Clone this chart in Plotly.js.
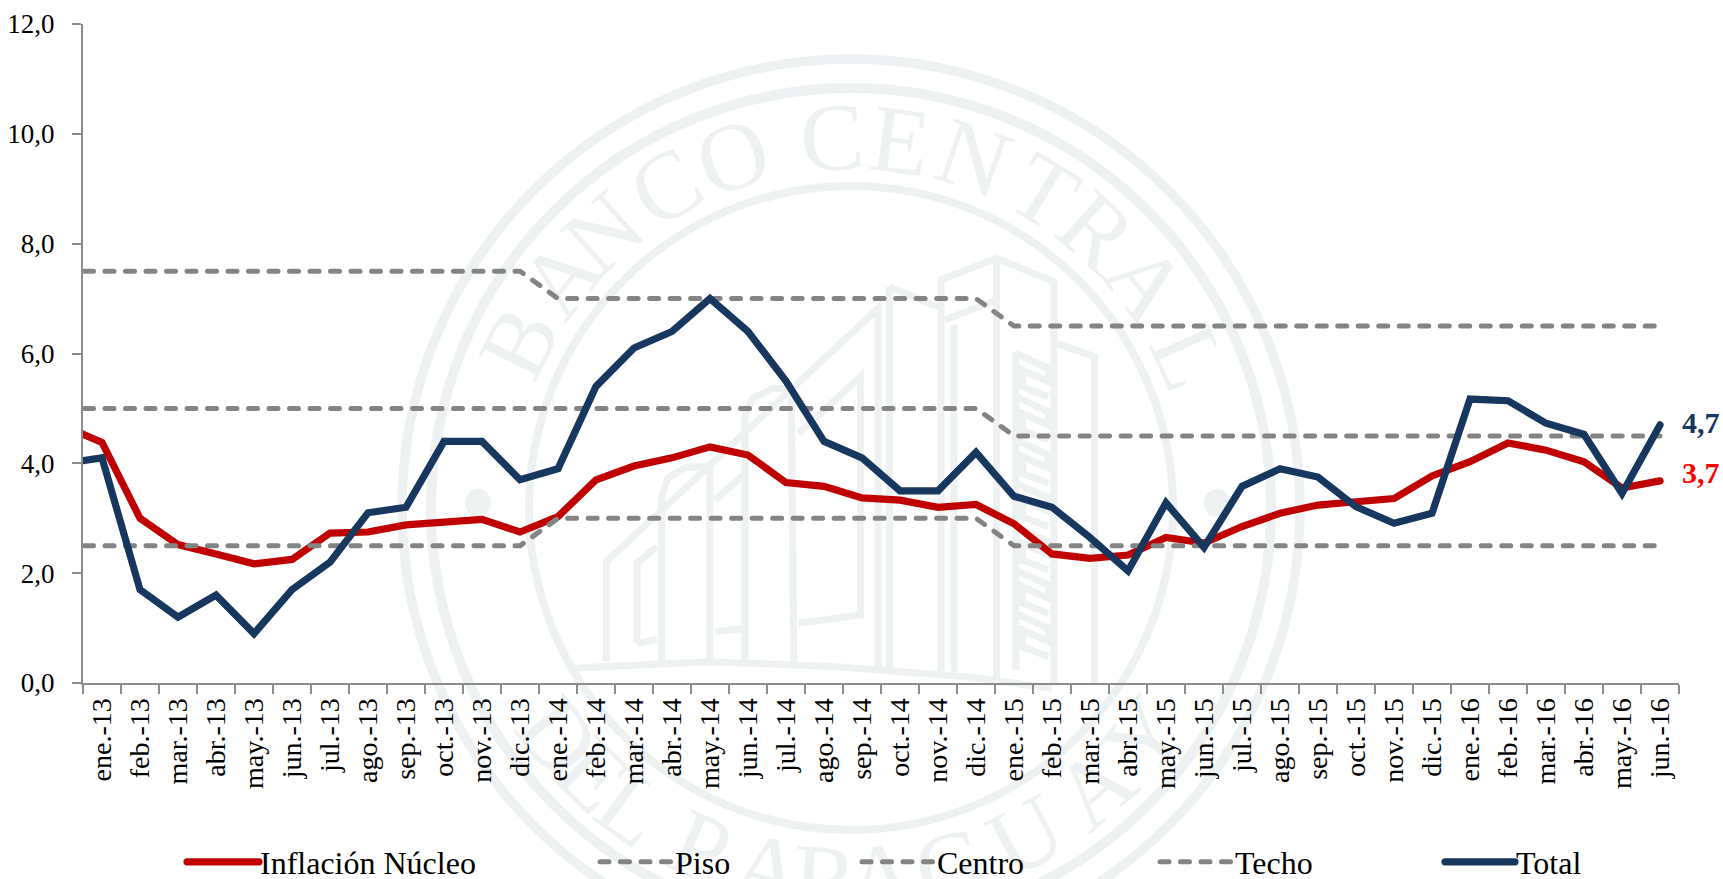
<!DOCTYPE html>
<html><head><meta charset="utf-8">
<script src="https://cdn.plot.ly/plotly-3.0.1.min.js"></script>
<style>
html,body{margin:0;padding:0;background:#fff;overflow:hidden}
#chart{width:1723px;height:879px}
.js-line{stroke-linecap:round !important}
.legendtext{transform:translateX(-4px)}
.legend2text,.legend3text,.legend4text{transform:translateX(-5px)}
.legend5text{transform:translateX(-4px)}
</style></head><body><div id="chart"></div>
<script>
// dic.-12 is only a lead-in point: it sits left of the axis and is clipped there.
const meses = ["dic.-12",
 "ene.-13","feb.-13","mar.-13","abr.-13","may.-13","jun.-13","jul.-13","ago.-13","sep.-13","oct.-13","nov.-13","dic.-13",
 "ene.-14","feb.-14","mar.-14","abr.-14","may.-14","jun.-14","jul.-14","ago.-14","sep.-14","oct.-14","nov.-14","dic.-14",
 "ene.-15","feb.-15","mar.-15","abr.-15","may.-15","jun.-15","jul.-15","ago.-15","sep.-15","oct.-15","nov.-15","dic.-15",
 "ene.-16","feb.-16","mar.-16","abr.-16","may.-16","jun.-16"];
const nucleo = [4.68,
 4.38,3.0,2.52,2.35,2.17,2.25,2.73,2.75,2.88,2.93,2.98,2.75,
 3.03,3.7,3.95,4.1,4.3,4.15,3.65,3.58,3.37,3.33,3.2,3.25,
 2.9,2.35,2.27,2.33,2.65,2.55,2.85,3.09,3.24,3.3,3.36,3.77,
 4.03,4.37,4.24,4.03,3.55,3.68];
const total = [4.0,
 4.1,1.7,1.2,1.6,0.9,1.7,2.2,3.1,3.2,4.4,4.4,3.7,
 3.9,5.4,6.1,6.4,7.0,6.4,5.5,4.4,4.1,3.5,3.5,4.2,
 3.4,3.2,2.65,2.04,3.28,2.47,3.58,3.9,3.75,3.21,2.91,3.09,
 5.17,5.14,4.73,4.53,3.45,4.7];
const piso = [2.5,
 2.5,2.5,2.5,2.5,2.5,2.5,2.5,2.5,2.5,2.5,2.5,2.5,
 3,3,3,3,3,3,3,3,3,3,3,3,
 2.5,2.5,2.5,2.5,2.5,2.5,2.5,2.5,2.5,2.5,2.5,2.5,
 2.5,2.5,2.5,2.5,2.5,2.5];
const centro = [5,
 5,5,5,5,5,5,5,5,5,5,5,5,
 5,5,5,5,5,5,5,5,5,5,5,5,
 4.5,4.5,4.5,4.5,4.5,4.5,4.5,4.5,4.5,4.5,4.5,4.5,
 4.5,4.5,4.5,4.5,4.5,4.5];
const techo = [7.5,
 7.5,7.5,7.5,7.5,7.5,7.5,7.5,7.5,7.5,7.5,7.5,7.5,
 7,7,7,7,7,7,7,7,7,7,7,7,
 6.5,6.5,6.5,6.5,6.5,6.5,6.5,6.5,6.5,6.5,6.5,6.5,
 6.5,6.5,6.5,6.5,6.5,6.5];
const nombres = ["Inflación Núcleo","Piso","Centro","Techo","Total"];

const L=83, R=1679, T=24, B=683, W=R-L, H=B-T;
const SERIF='"Liberation Serif","Times New Roman",serif';
const AZUL='#17375E', ROJO='#C00000', GRIS='#848484', PALE='#EDF1F2', AXIS='#8C8C8C';
const px=x=>(x-L)/W, py=y=>(B-y)/H;

const dash='9px,11.5px';
const mk=(name,y,color,width,d,lg)=>({type:'scatter',mode:'lines',name,x:meses,y,legend:lg,
  line:{color,width,dash:d,shape:'linear'},hoverinfo:'skip'});
const data=[
  mk(nombres[0],nucleo,ROJO,7.2,'solid','legend'),
  mk(nombres[1],piso,GRIS,5,dash,'legend2'),
  mk(nombres[2],centro,GRIS,5,dash,'legend3'),
  mk(nombres[3],techo,GRIS,5,dash,'legend4'),
  mk(nombres[4],total,AZUL,7.2,'solid','legend5')
];
const lg=(x,w)=>({x:px(x-5),xanchor:'left',y:py(862),yanchor:'middle',orientation:'h',bgcolor:'rgba(0,0,0,0)',
  borderwidth:0,itemwidth:w||75,font:{family:SERIF,size:32,color:'#000'},itemclick:false,itemdoubleclick:false});

// ---- watermark (seal of the bank) ----
const CX=851, CY=508;
const ring=(r,w)=>({type:'circle',xref:'paper',yref:'paper',layer:'below',
  x0:px(CX-r),x1:px(CX+r),y0:py(CY+r),y1:py(CY-r),line:{color:PALE,width:w},fillcolor:'rgba(0,0,0,0)'});
const dot=(x,y)=>({type:'circle',xref:'paper',yref:'paper',layer:'below',
  x0:px(x-13),x1:px(x+13),y0:py(y+14),y1:py(y-14),line:{width:0},fillcolor:PALE});
const zx=x=>560+x/2.703, zy=y=>240+y/3;
const poly=(pts,w)=>({type:'path',xref:'paper',yref:'paper',layer:'below',
  path:pts.map((p,i)=>(i?'L':'M')+px(zx(p[0])).toFixed(5)+','+py(zy(p[1])).toFixed(5)).join(' '),
  line:{color:PALE,width:w||7},fillcolor:'rgba(0,0,0,0)'});
const edificio=[
 [[125,1265],[125,965],[860,205],[860,1280]],
 [[208,1210],[208,970],[262,920]],[[208,1210],[262,1198]],
 [[275,1265],[275,770],[290,715],[340,682],[405,680],[405,1265]],
 [[500,1265],[500,530],[520,475],[575,445],[625,445],[632,1270]],
 [[420,780],[500,700]],[[420,1175],[500,1165]],
 [[645,580],[812,410],[812,1125],[645,1150]],
 [[890,140],[1030,205]],[[890,140],[890,1285]],
 [[1030,1295],[1030,120],[1180,55],[1335,125],[1335,1330]],
 [[1040,240],[1180,180]],[[1180,65],[1180,1320]],[[1065,255],[1065,1295]],
 [[1330,305],[1445,350],[1445,1335]],
 [[1232,335],[1232,1290]],
 [[30,1285],[400,1265],[750,1280],[1100,1310],[1330,1345]]
];
for(const y0 of [340,470,600,730,860,990,1120]){
  edificio.push([[1232,y0],[1320,y0+45],[1320,y0+85],[1250,y0+50],[1250,y0+100],[1320,y0+130]]);
}
const shapes=[ring(449,9.5),ring(420,10),ring(322,8),dot(478,503),dot(1217,503)]
  .concat(edificio.map(p=>poly(p)));

const wm=(t,x,y,a)=>({text:t,xref:'paper',yref:'paper',x:px(x),y:py(y),xanchor:'center',yanchor:'middle',
  showarrow:false,textangle:a,font:{family:SERIF,size:96,color:PALE},name:'wm'});
const arriba=[["B",-63.5],["A",-51.5],["N",-42],["C",-30],["O",-18.6],["C",-3],["E",7.6],["N",19.3],["T",31.5],["R",41.5],["A",52.6],["L",66]];
const abajo=[["D",-52],["E",-44],["L",-36],["P",-24],["A",-13],["R",-4],["A",4.5],["G",15.5],["U",28],["A",41],["Y",52]];
const RL=371, rad=Math.PI/180;
const wmA=arriba.map(([t,a])=>wm(t,CX+RL*Math.sin(a*rad),CY-RL*Math.cos(a*rad),a))
  .concat(abajo.map(([t,a])=>wm(t,CX+RL*Math.sin(a*rad),CY+RL*Math.cos(a*rad),-a)));

const ult=meses[meses.length-1];
const notas=[
 {text:String(total[total.length-1].toFixed(1)).replace('.',','),color:AZUL,y:total[total.length-1],up:2},
 {text:String(nucleo[nucleo.length-1].toFixed(1)).replace('.',','),color:'#FF0000',y:nucleo[nucleo.length-1],up:8}
].map(n=>({text:'<b>'+n.text+'</b>',xref:'x',yref:'y',x:ult,y:n.y,xanchor:'left',yanchor:'middle',xshift:20,yshift:n.up,
  showarrow:false,font:{family:SERIF,size:30,color:n.color}}));

const layout={
  width:1723,height:879,autosize:false,paper_bgcolor:'#fff',plot_bgcolor:'rgba(0,0,0,0)',
  margin:{l:L,r:1723-R,t:T,b:879-B,pad:0,autoexpand:false},
  separators:',.',hovermode:false,showlegend:true,
  font:{family:SERIF,size:26,color:'#000'},
  xaxis:{type:'category',categoryorder:'array',categoryarray:meses,range:[0.5,42.5],dtick:1,tick0:0,
    tickson:'boundaries',ticks:'outside',ticklen:9,tickwidth:1.5,tickcolor:AXIS,showline:true,linecolor:AXIS,linewidth:2,
    showgrid:false,zeroline:false,tickangle:-90,tickfont:{family:SERIF,size:28,color:'#000'},ticklabelstandoff:2,automargin:false},
  yaxis:{range:[0,12],dtick:2,tick0:0,tickformat:'.1f',ticks:'outside',ticklen:9,tickwidth:1.5,tickcolor:AXIS,
    showline:true,linecolor:AXIS,linewidth:2,showgrid:false,zeroline:false,tickfont:{family:SERIF,size:27,color:'#000'},
    ticklabelstandoff:12,automargin:false},
  legend:lg(187,72),legend2:lg(600),legend3:lg(862),legend4:lg(1160),legend5:lg(1445,70),
  shapes,annotations:wmA.concat(notas)
};
Plotly.newPlot('chart',data,layout,{displayModeBar:false,responsive:false}).then(gd=>{
  // the seal letters belong underneath the lines, like the rest of the watermark
  const below=gd.querySelector('.layer-below');
  const anns=[...gd.querySelectorAll('.infolayer .annotation')];
  anns.slice(0,wmA.length).forEach(n=>below.appendChild(n));
});
</script></body></html>
